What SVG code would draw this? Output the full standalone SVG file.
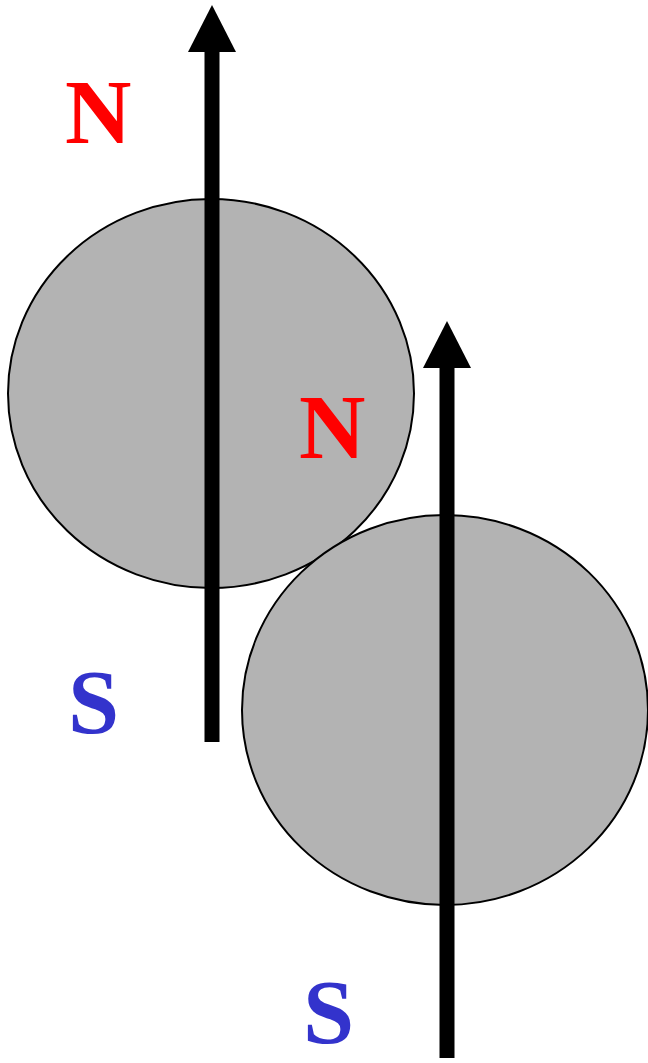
<svg xmlns="http://www.w3.org/2000/svg" width="648" height="1063" viewBox="0 0 648 1063">
<style>
.ball{fill:#b3b3b3;stroke:#000;stroke-width:2}
.shaft{stroke:#000;stroke-width:15;fill:none}
.head{fill:#000}
.lbl{font-family:"Liberation Serif","Times New Roman",serif;font-weight:bold;font-size:92px}
.n{fill:#ff0000}
.s{fill:#3333cc}
</style>
<g id="magnet1">
<ellipse class="ball" cx="211" cy="393.5" rx="203" ry="194.5"/>
</g>
<g id="magnet2">
<ellipse class="ball" cx="445" cy="710" rx="203" ry="195"/>
</g>
<g id="connectors">
<line class="shaft" x1="212" y1="742" x2="212" y2="48"/>
<polygon class="head" points="212,5 236,52 188,52"/>
<line class="shaft" x1="447" y1="1058" x2="447" y2="364"/>
<polygon class="head" points="447,321 471,368 423,368"/>
</g>
<g id="labels">
<text class="lbl n" x="65" y="143">N</text>
<text class="lbl n" x="299" y="458">N</text>
<text class="lbl s" x="68" y="733">S</text>
<text class="lbl s" x="303" y="1043">S</text>
</g>
</svg>
